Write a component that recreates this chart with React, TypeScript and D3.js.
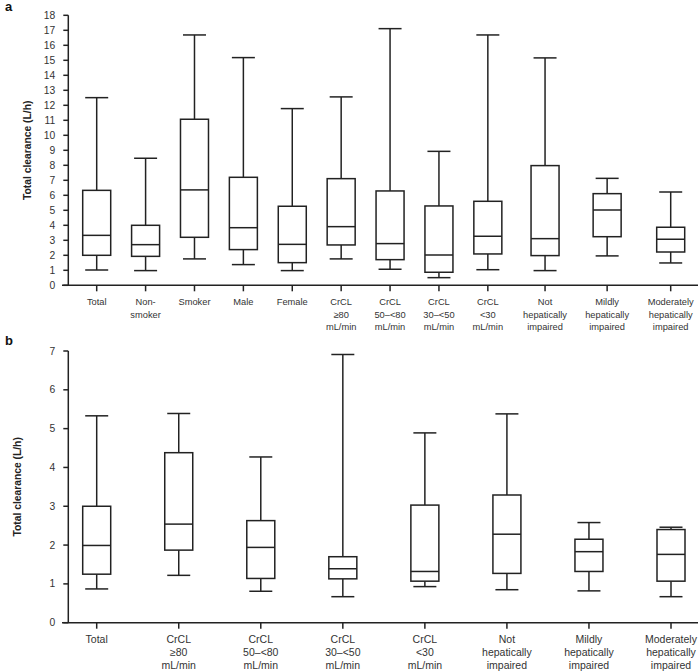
import React from "react";
import * as d3 from "d3";

// ---- Panel a data ----
const categoriesA = [
  "Total", "Non-\nsmoker", "Smoker", "Male", "Female",
  "CrCL\n≥80\nmL/min", "CrCL\n50–<80\nmL/min", "CrCL\n30–<50\nmL/min", "CrCL\n<30\nmL/min",
  "Not\nhepatically\nimpaired", "Mildly\nhepatically\nimpaired", "Moderately\nhepatically\nimpaired",
];
const minA = [1.02, 0.98, 1.76, 1.38, 0.98, 1.76, 1.07, 0.51, 1.04, 0.98, 1.96, 1.49];
const q1A = [2.0, 1.93, 3.2, 2.38, 1.51, 2.69, 1.71, 0.87, 2.09, 1.98, 3.24, 2.22];
const medA = [3.33, 2.71, 6.36, 3.84, 2.73, 3.91, 2.78, 2.02, 3.27, 3.11, 5.02, 3.07];
const q3A = [6.33, 4.0, 11.07, 7.2, 5.27, 7.11, 6.29, 5.29, 5.6, 7.98, 6.11, 3.87];
const maxA = [12.51, 8.47, 16.69, 15.18, 11.78, 12.56, 17.11, 8.93, 16.69, 15.16, 7.13, 6.22];
const ticksA = d3.range(0, 19, 1);

// ---- Panel b data ----
const categoriesB = [
  "Total", "CrCL\n≥80\nmL/min", "CrCL\n50–<80\nmL/min", "CrCL\n30–<50\nmL/min", "CrCL\n<30\nmL/min",
  "Not\nhepatically\nimpaired", "Mildly\nhepatically\nimpaired", "Moderately\nhepatically\nimpaired",
];
const minB = [0.87, 1.22, 0.81, 0.67, 0.93, 0.85, 0.82, 0.67];
const q1B = [1.25, 1.87, 1.14, 1.13, 1.07, 1.27, 1.32, 1.07];
const medB = [1.99, 2.54, 1.94, 1.39, 1.32, 2.28, 1.83, 1.76];
const q3B = [3.0, 4.38, 2.63, 1.7, 3.03, 3.29, 2.15, 2.4];
const maxB = [5.33, 5.39, 4.27, 6.91, 4.89, 5.38, 2.58, 2.46];
const ticksB = d3.range(0, 8, 1);

const yTitle = "Total clearance (L/h)";

// layout: relative spacing between category slots (panel a has wider final slots)
const gapsA = [0, 1, 1, 1, 1, 1, 1, 1, 1, 1.17, 1.27, 1.3];
const gapsB = [0, 1, 1, 1, 1, 1, 1, 1];

const FONT = "'Liberation Sans', Arial, sans-serif";
const LINE = "#222";
const TEXT = "#333";

type PanelProps = {
  label: string;
  cats: string[];
  mins: number[]; q1s: number[]; meds: number[]; q3s: number[]; maxs: number[];
  ticks: number[];
  yMax: number;
  top: number; bottom: number;
  gaps: number[];
  xFirst: number; xLast: number;
  titleX: number;
  labelY: number;
  xFont: number; xLineH: number;
};

function Panel(p: PanelProps) {
  const axisX = 68.3;
  const y = d3.scaleLinear().domain([0, p.yMax]).range([p.bottom, p.top]);
  const cum: number[] = [];
  p.gaps.reduce((acc, g, i) => { cum[i] = acc + g; return acc + g; }, 0);
  const x = d3.scaleLinear().domain([0, cum[cum.length - 1]]).range([p.xFirst, p.xLast]);
  const boxW = 28;
  const capW = 23;
  return (
    <g>
      <text x={5} y={p.labelY} fontFamily={FONT} fontWeight="bold" fontSize={13} fill="#111">{p.label}</text>
      <text
        transform={`translate(${p.titleX},${(p.top + p.bottom) / 2}) rotate(-90)`}
        textAnchor="middle" dominantBaseline="middle"
        fontFamily={FONT} fontWeight="bold" fontSize={10.3} fill="#222"
      >{yTitle}</text>
      {/* y axis */}
      <line x1={axisX} x2={axisX} y1={p.top} y2={p.bottom} stroke={LINE} strokeWidth={1.5} />
      {p.ticks.map((t) => (
        <g key={t}>
          <line x1={axisX - 5} x2={axisX} y1={y(t)} y2={y(t)} stroke={LINE} strokeWidth={1.5} />
          <text x={axisX - 13} y={y(t)} textAnchor="end" dominantBaseline="central"
            fontFamily={FONT} fontSize={10.3} fill={TEXT}>{t}</text>
        </g>
      ))}
      {/* x axis */}
      <line x1={62} x2={698} y1={p.bottom} y2={p.bottom} stroke={LINE} strokeWidth={1.5} />
      {p.cats.map((c, i) => {
        const cx = x(cum[i]);
        const lines = c.split("\n");
        return (
          <g key={c}>
            <line x1={cx} x2={cx} y1={p.bottom} y2={p.bottom + 6} stroke={LINE} strokeWidth={1.5} />
            <text textAnchor="middle" fontFamily={FONT} fontSize={p.xFont} fill={TEXT}>
              {lines.map((l, j) => (
                <tspan key={j} x={cx} y={p.bottom + 20 + j * p.xLineH}>{l}</tspan>
              ))}
            </text>
            {/* whiskers */}
            <line x1={cx} x2={cx} y1={y(p.maxs[i])} y2={y(p.q3s[i])} stroke={LINE} strokeWidth={1.5} />
            <line x1={cx} x2={cx} y1={y(p.q1s[i])} y2={y(p.mins[i])} stroke={LINE} strokeWidth={1.5} />
            <line x1={cx - capW / 2} x2={cx + capW / 2} y1={y(p.maxs[i])} y2={y(p.maxs[i])} stroke={LINE} strokeWidth={1.5} />
            <line x1={cx - capW / 2} x2={cx + capW / 2} y1={y(p.mins[i])} y2={y(p.mins[i])} stroke={LINE} strokeWidth={1.5} />
            {/* box */}
            <rect x={cx - boxW / 2} y={y(p.q3s[i])} width={boxW} height={y(p.q1s[i]) - y(p.q3s[i])}
              fill="white" stroke={LINE} strokeWidth={1.5} />
            <line x1={cx - boxW / 2} x2={cx + boxW / 2} y1={y(p.meds[i])} y2={y(p.meds[i])} stroke={LINE} strokeWidth={1.5} />
          </g>
        );
      })}
    </g>
  );
}

export default function App() {
  return (
    <div style={{ position: "absolute", left: 0, top: 0 }}>
      <svg width={700} height={671} style={{ display: "block", background: "white" }}>
        <Panel label="a" cats={categoriesA} mins={minA} q1s={q1A} meds={medA} q3s={q3A} maxs={maxA}
          ticks={ticksA} yMax={18} top={15.3} bottom={285.3} gaps={gapsA}
          xFirst={96.7} xLast={670.7} titleX={28} labelY={11} xFont={9.3} xLineH={12.5} />
        <Panel label="b" cats={categoriesB} mins={minB} q1s={q1B} meds={medB} q3s={q3B} maxs={maxB}
          ticks={ticksB} yMax={7} top={351} bottom={622.7} gaps={gapsB}
          xFirst={96.7} xLast={671} titleX={18} labelY={345} xFont={10.5} xLineH={13} />
      </svg>
    </div>
  );
}
